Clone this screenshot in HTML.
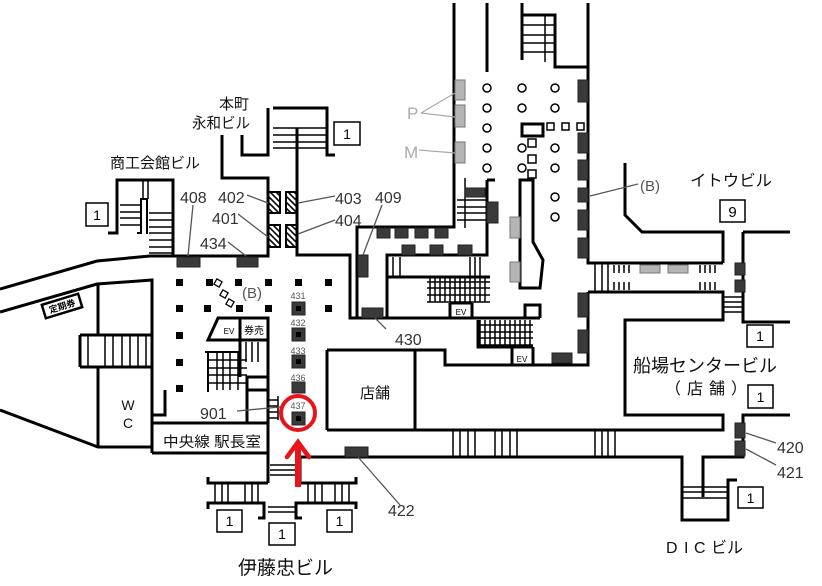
<!DOCTYPE html>
<html><head><meta charset="utf-8"><style>
html,body{margin:0;padding:0;background:#fff;}
svg{display:block;}
text{font-family:"Liberation Sans","Noto Sans CJK JP",sans-serif;}
</style></head><body>
<svg width="822" height="586" viewBox="0 0 822 586" xmlns="http://www.w3.org/2000/svg">
<defs>
<pattern id="hatch" patternUnits="userSpaceOnUse" width="6" height="6">
<path d="M-1,-1 L7,7 M-1,5 L1,7 M5,-1 L7,1" stroke="#000" stroke-width="1.6"/>
</pattern>
</defs>
<rect width="822" height="586" fill="#fff"/>

<!-- thin stair lines -->
<g stroke="#000" stroke-width="1.5" fill="none">
<path d="M120,205H141 M120,212H141 M120,218H141 M120,225H141"/>
<path d="M149,213H172 M149,220H172 M149,227H172 M149,233H172 M149,240H172 M149,247H172 M149,253H172"/>
<path d="M143,180V199 M148,180V199"/>
<path d="M273,128H327 M273,135H327 M273,142H327 M273,148H327"/>
<path d="M522,25H555 M522,35H555 M522,43H555 M522,52H555 M545,15V62"/>
<path d="M457,200H487 M457,207H487 M457,213H487 M457,220H487 M465,178V228"/>
<path d="M393,257V277 M400,257V277 M470,257V277 M475,257V277 M480,257V277"/>
<path d="M427,282H490 M427,288H490 M427,295H490 M427,302H490"/>
<path d="M430,277V302 M435,277V302 M440,277V302 M445,277V302 M450,277V302 M455,277V302 M460,277V302 M465,277V302 M470,277V302 M475,277V302 M480,277V302 M485,277V302"/>
<path d="M478,325H533 M478,332H533 M478,338H533 M478,345H533"/>
<path d="M480,320V347 M485,320V347 M490,320V347 M495,320V347 M500,320V347 M505,320V347 M510,320V347 M515,320V347 M520,320V347 M525,320V347 M530,320V347"/>
<path d="M595,263V292 M602,263V292 M608,263V292"/>
<path d="M614,265V273 M619,265V273 M624,265V273 M629,265V273 M614,282V290 M619,282V290 M624,282V290 M629,282V290"/>
<path d="M700,265V273 M705,265V273 M710,265V273 M715,265V273 M700,282V290 M705,282V290 M710,282V290 M715,282V290"/>
<path d="M723,297H743 M723,302H743 M723,307H743 M723,312H743"/>
<path d="M453,430V457 M460,430V457 M468,430V457 M475,430V457 M495,430V457 M502,430V457 M510,430V457 M517,430V457 M595,430V457 M602,430V457 M608,430V457 M615,430V457"/>
<path d="M682,487H728 M682,492H728 M682,498H728"/>
<path d="M88,335V367 M105,335V367 M113,335V367 M122,335V367 M130,335V367 M138,335V367 M146,335V367"/>
<path d="M246,342V362 M252,342V362 M258,342V362"/>
<path d="M208,360H247 M208,368H247 M208,375H247 M208,383H247"/>
<path d="M217,353V390 M223,353V390 M230,353V390 M238,353V390"/>
<path d="M268,400H278 M268,406H278 M268,412H278 M268,418H278 M278,396V420"/>
<path d="M270,465H297 M270,470H297 M270,475H297"/>
<path d="M215,484V502 M222,484V502 M228,484V502 M245,484V502 M252,484V502 M258,484V502"/>
<path d="M308,484V502 M315,484V502 M322,484V502 M335,484V502 M342,484V502 M349,484V502"/>
<path d="M268,507H295 M268,512H295"/>
</g>

<!-- main walls -->
<g stroke="#000" stroke-width="3" fill="none" stroke-linejoin="miter">
<path d="M0,289 L97,261 L150,256 L268,256 L268,178 L222,178 L222,135"/>
<path d="M108,233 L117,233 L117,180 L173,180 L173,256"/>
<path d="M137,233 L141,233 L141,199 L147,199 L147,234" stroke-width="2"/>
<path d="M242,135 L242,155 L268,155 L268,108"/>
<path d="M273,108 L327,108 L327,155 L335,155"/>
<path d="M297,128 L297,255 L350,255 L350,318 L540,318"/>
<path d="M357,318 L357,227 L454,227 L454,3"/>
<path d="M487,3 V72"/>
<path d="M522,3 V60 M522,15 H555 V67 H588"/>
<path d="M588,3 V263 H723 M625,163 V215 L642,232 H723 V263"/>
<path d="M588,292 H723 V320 H625 V415 H723 V430 H327"/>
<path d="M588,292 V365 H445 V350 H415"/>
<path d="M327,350 H415 V430 M327,350 V430"/>
<path d="M487,180 H495 M487,180 V255 H387 V318 M387,277 H490"/>
<path d="M525,318 V305 H540 V318"/>
<path d="M478,320 V347 H533 M512,347 V365 M533,347 V365"/>
<path d="M450,303 V318 M472,303 V318 M450,303 H472"/>
<path d="M520,180 H533 V242 L543,260 L540,288 H520 Z"/>
<path d="M743,232 H790 M743,232 V322 H790"/>
<path d="M790,415 H743 V457 H703 V497"/>
<path d="M300,457 H682 V520 H728 V480 H737"/>
<path d="M300,457 V483"/>
<path d="M0,312 L97,284 L152,280 V453"/>
<path d="M98,284 V335 M98,367 V447"/>
<path d="M0,410 L98,447 H152"/>
<path d="M80,335 H152 M80,367 H152 M80,335 V367"/>
<path d="M165,390 V415 H152"/>
<path d="M152,423 H268 M152,453 H268"/>
<path d="M247,423 V377 H268 V483 M247,390 H268"/>
<path d="M218,318 H240 V340 H208 Z"/>
<path d="M240,318 H268 V340 H240 Z M240,340 V377 M268,340 V377"/>
<path d="M205,352 H240 M208,352 V392" stroke-width="2"/>
<path d="M208,477 V483 H268 M208,509 V503 H264 V518 H258"/>
<path d="M356,477 V483 H300 M356,509 V503 H296 V518 H302"/>
</g>

<!-- hatched escalators -->
<g fill="url(#hatch)" stroke="#000" stroke-width="2">
<rect x="268" y="192" width="12" height="21"/>
<rect x="286" y="192" width="11" height="21"/>
<rect x="268" y="225" width="12" height="22"/>
<rect x="286" y="225" width="11" height="22"/>
</g>

<!-- dark boxes -->
<g fill="#3a3a3a" stroke="#222" stroke-width="1">
<rect x="177" y="257" width="23" height="10"/>
<rect x="237" y="257" width="21" height="10"/>
<rect x="358" y="255" width="10" height="22"/>
<rect x="362" y="308" width="21" height="10"/>
<rect x="377" y="228" width="13" height="10"/><rect x="395" y="228" width="13" height="10"/><rect x="415" y="228" width="13" height="10"/><rect x="435" y="228" width="13" height="10"/>
<rect x="402" y="245" width="13" height="10"/><rect x="430" y="245" width="13" height="10"/><rect x="458" y="245" width="14" height="10"/>
<rect x="465" y="188" width="20" height="9"/><rect x="487" y="202" width="11" height="21"/>
<rect x="578" y="80" width="10" height="22"/><rect x="578" y="133" width="10" height="20"/><rect x="578" y="160" width="10" height="20"/><rect x="578" y="188" width="10" height="14"/><rect x="578" y="210" width="10" height="20"/><rect x="578" y="238" width="10" height="20"/><rect x="578" y="293" width="10" height="24"/><rect x="578" y="330" width="10" height="23"/>
<rect x="552" y="353" width="20" height="10"/>
<rect x="735" y="263" width="10" height="12"/><rect x="735" y="280" width="10" height="12"/>
<rect x="735" y="423" width="10" height="15"/><rect x="735" y="441" width="10" height="15"/>
<rect x="345" y="447" width="23" height="10"/>
<rect x="292" y="302" width="13" height="13"/><rect x="292" y="328" width="13" height="13"/><rect x="292" y="355" width="13" height="13"/><rect x="292" y="382" width="13" height="11"/><rect x="292" y="412" width="13" height="13"/>
</g>
<g fill="#000">
<rect x="296" y="306" width="5" height="5"/><rect x="296" y="332" width="5" height="5"/><rect x="296" y="359" width="5" height="5"/><rect x="296" y="416" width="5" height="5"/>
</g>

<!-- gray boxes -->
<g fill="#b5b5b5" stroke="#777" stroke-width="1">
<rect x="455" y="80" width="10" height="20"/><rect x="455" y="105" width="10" height="22"/><rect x="455" y="142" width="10" height="21"/>
<rect x="510" y="217" width="10" height="21"/><rect x="510" y="262" width="10" height="20"/>
<rect x="640" y="265" width="20" height="8"/><rect x="668" y="265" width="20" height="8"/>
</g>

<!-- columns circles -->
<g fill="#fff" stroke="#000" stroke-width="1.5">
<circle cx="487" cy="88" r="4"/><circle cx="522" cy="88" r="4"/><circle cx="555" cy="88" r="4"/>
<circle cx="487" cy="108" r="4"/><circle cx="522" cy="108" r="4"/><circle cx="555" cy="108" r="4"/>
<circle cx="487" cy="128" r="4"/>
<circle cx="487" cy="148" r="4"/><circle cx="522" cy="148" r="4"/><circle cx="555" cy="148" r="4"/>
<circle cx="487" cy="168" r="4"/><circle cx="522" cy="168" r="4"/><circle cx="555" cy="168" r="4"/>
<circle cx="555" cy="197" r="4"/><circle cx="555" cy="217" r="4"/>
<rect x="547" y="123" width="7" height="7"/><rect x="562" y="123" width="7" height="7"/><rect x="577" y="123" width="7" height="7"/>
<rect x="528" y="139" width="8" height="8"/><rect x="528" y="155" width="8" height="8"/><rect x="528" y="170" width="8" height="8"/>
</g>
<rect x="522" y="124" width="21" height="12" fill="#fff" stroke="#000" stroke-width="3"/>

<!-- pillars -->
<g fill="#000">
<rect x="176" y="279" width="7" height="7"/><rect x="206" y="279" width="7" height="7"/><rect x="235" y="279" width="7" height="7"/><rect x="265" y="279" width="7" height="7"/><rect x="295" y="279" width="7" height="7"/><rect x="325" y="279" width="7" height="7"/>
<rect x="176" y="305" width="7" height="7"/><rect x="204" y="305" width="7" height="7"/><rect x="236" y="305" width="7" height="7"/><rect x="265" y="305" width="7" height="7"/><rect x="325" y="305" width="7" height="7"/>
<rect x="176" y="332" width="7" height="7"/><rect x="176" y="359" width="7" height="7"/><rect x="176" y="385" width="7" height="7"/>
</g>
<g fill="#fff" stroke="#000" stroke-width="1.3">
<rect x="-3" y="-3" width="6" height="6" transform="translate(218,283) rotate(30)"/>
<rect x="-3" y="-3" width="6" height="6" transform="translate(224,294) rotate(30)"/>
<rect x="-3" y="-3" width="6" height="6" transform="translate(230,303) rotate(30)"/>
</g>

<!-- 1 boxes -->
<g fill="#fff" stroke="#000" stroke-width="1.5">
<rect x="86" y="203" width="22" height="23"/>
<rect x="334" y="122" width="26" height="23"/>
<rect x="720" y="200" width="25" height="22"/>
<rect x="747" y="325" width="26" height="22"/>
<rect x="748" y="385" width="25" height="23"/>
<rect x="738" y="487" width="25" height="21"/>
<rect x="217" y="510" width="25" height="22"/>
<rect x="269" y="523" width="26" height="22"/>
<rect x="327" y="510" width="25" height="22"/>
</g>
<g font-size="14" fill="#000" text-anchor="middle">
<text x="97" y="220">1</text>
<text x="347" y="139">1</text>
<text x="732.5" y="217" font-size="15">9</text>
<text x="760" y="341">1</text>
<text x="760.5" y="402">1</text>
<text x="750.5" y="503">1</text>
<text x="229.5" y="526">1</text>
<text x="282" y="539">1</text>
<text x="339.5" y="526">1</text>
</g>

<!-- leader lines -->
<g stroke="#555" stroke-width="1.3" fill="none">
<path d="M247,195 L268,203 M238,214 L268,237 M228,242 L246,256 M193,205 L188,256"/>
<path d="M335,196 L298,203 M335,220 L298,234 M382,205 L363,255"/>
<path d="M375,318 L386,329 M358,457 L400,505 M237,411 L280,407"/>
<path d="M746,433 L776,443 M746,449 L776,465 M590,196 L638,184"/>
</g>
<g stroke="#aaa" stroke-width="1.3" fill="none">
<path d="M421,113 L455,93 M421,113 L455,117 M419,150 L455,153"/>
</g>

<!-- 定期券 sign -->
<g transform="translate(62,306) rotate(-17)">
<rect x="-19" y="-7" width="38" height="14" fill="#fff" stroke="#000" stroke-width="2.5"/>
<text x="0" y="3.5" font-size="9" font-weight="bold" text-anchor="middle" fill="#000">定期券</text>
</g>

<!-- red marker -->
<circle cx="298" cy="413" r="17" fill="none" stroke="#e8141c" stroke-width="4"/>
<path d="M298,444 V487" stroke="#e8141c" stroke-width="6"/>
<path d="M287,457 L298,442 L309,457" stroke="#e8141c" stroke-width="4.5" fill="none" stroke-linecap="round"/>

<!-- small labels -->
<g font-size="9" fill="#555" text-anchor="middle">
<text x="298" y="299">431</text>
<text x="298" y="326">432</text>
<text x="298" y="354">433</text>
<text x="298" y="381">436</text>
<text x="298" y="409">437</text>
</g>
<text x="229" y="334" font-size="8" fill="#000" text-anchor="middle">EV</text>
<text x="254" y="334" font-size="10" fill="#000" text-anchor="middle">券売</text>
<text x="461" y="315" font-size="8" fill="#000" text-anchor="middle">EV</text>
<text x="522" y="362" font-size="8" fill="#000" text-anchor="middle">EV</text>

<!-- numbers -->
<g font-size="16" fill="#333">
<text x="180" y="203">408</text>
<text x="218" y="203">402</text>
<text x="212" y="224">401</text>
<text x="200" y="249">434</text>
<text x="335" y="204">403</text>
<text x="335" y="226">404</text>
<text x="375" y="203">409</text>
<text x="395" y="345">430</text>
<text x="388" y="516">422</text>
<text x="200" y="419">901</text>
<text x="777" y="453">420</text>
<text x="777" y="478">421</text>
</g>
<text x="242" y="298" font-size="15" fill="#555">(B)</text>
<text x="640" y="191" font-size="15" fill="#555">(B)</text>
<text x="407" y="119" font-size="17" fill="#aaa">P</text>
<text x="404" y="158" font-size="17" fill="#aaa">M</text>

<!-- Japanese labels -->
<g fill="#111">
<text x="234" y="109" font-size="15" text-anchor="middle">本町</text>
<text x="192" y="128" font-size="15" textLength="58" lengthAdjust="spacingAndGlyphs">永和ビル</text>
<text x="110" y="168" font-size="15" textLength="90" lengthAdjust="spacingAndGlyphs">商工会館ビル</text>
<text x="690" y="186" font-size="16" textLength="82" lengthAdjust="spacingAndGlyphs">イトウビル</text>
<text x="633" y="372" font-size="18" textLength="144" lengthAdjust="spacingAndGlyphs">船場センタービル</text>
<text x="665" y="394" font-size="16" textLength="82" lengthAdjust="spacing">（ 店 舗 ）</text>
<text y="553" font-size="16"><tspan x="666">D</tspan><tspan x="684">I</tspan><tspan x="694">C</tspan><tspan x="711">ビル</tspan></text>
<text x="238" y="574" font-size="19" textLength="95" lengthAdjust="spacingAndGlyphs">伊藤忠ビル</text>
<text x="375" y="398" font-size="15" text-anchor="middle">店舗</text>
<text x="163" y="447" font-size="14.5" textLength="98" lengthAdjust="spacingAndGlyphs">中央線 駅長室</text>
<text x="128" y="410" font-size="14" text-anchor="middle">W</text>
<text x="128" y="428" font-size="14" text-anchor="middle">C</text>
</g>
</svg>
</body></html>
